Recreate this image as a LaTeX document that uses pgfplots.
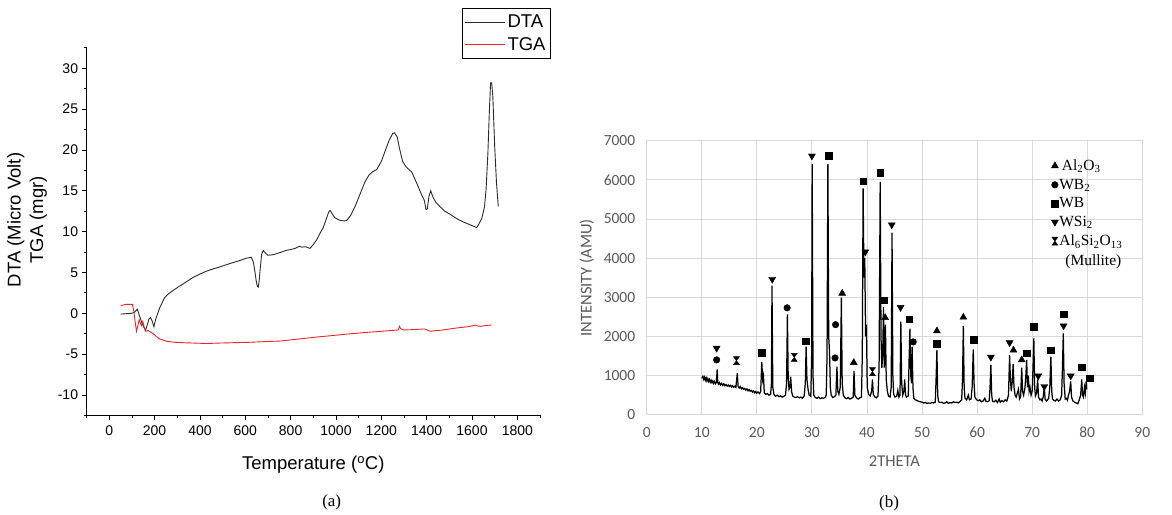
\documentclass[border=0pt]{standalone}
\usepackage{fontspec}
\setmainfont{Liberation Serif}
\newfontfamily\arial{Liberation Sans}
\newfontfamily\calibri{Carlito}
\usepackage{pgfplots}
\usepackage{pgfplotstable}
\pgfplotsset{compat=1.18}
\definecolor{dtac}{HTML}{2B2B2B}
\definecolor{tgac}{HTML}{E8262A}
\definecolor{gridc}{HTML}{D9D9D9}
\definecolor{labc}{HTML}{595959}

\pgfdeclareplotmark{hourglass}{%
  \pgfpathmoveto{\pgfpoint{-0.75\pgfplotmarksize}{\pgfplotmarksize}}%
  \pgfpathlineto{\pgfpoint{0.75\pgfplotmarksize}{\pgfplotmarksize}}%
  \pgfpathlineto{\pgfpoint{-0.75\pgfplotmarksize}{-\pgfplotmarksize}}%
  \pgfpathlineto{\pgfpoint{0.75\pgfplotmarksize}{-\pgfplotmarksize}}%
  \pgfpathclose
  \pgfusepathqfillstroke
}

\pgfplotstableread{
x y
50 -0.1
75 -0.05
98 0.0
110 0.1
124 0.5
133 -0.3
143 -1.1
152 -1.7
160 -2.05
168 -1.4
175 -0.7
182 -0.5
190 -1.0
197 -1.65
205 -0.7
214 0.0
223 0.7
235 1.4
245 1.95
262 2.4
282 2.8
303 3.2
326 3.6
348 4.0
370 4.4
400 4.8
428 5.15
460 5.45
490 5.7
517 5.95
545 6.2
575 6.45
605 6.75
627 6.85
636 6.2
642 5.2
648 4.0
653 3.3
657 3.2
661 3.9
666 5.5
672 7.2
679 7.7
688 7.4
700 7.1
718 7.15
738 7.3
760 7.5
780 7.7
800 7.8
820 7.95
838 8.2
850 8.1
865 8.15
885 7.95
900 8.4
915 9.0
930 9.8
944 10.5
958 11.6
968 12.4
974 12.6
983 12.2
995 11.7
1015 11.4
1035 11.3
1047 11.35
1065 12.0
1084 13.05
1105 14.5
1128 16.1
1145 16.9
1160 17.3
1180 17.6
1200 18.6
1216 19.8
1235 21.2
1250 22.0
1258 22.1
1270 21.6
1280 20.2
1294 18.6
1310 17.9
1334 17.3
1355 16.0
1378 14.5
1390 13.8
1397 12.7
1403 12.8
1410 14.3
1418 15.0
1428 14.2
1440 13.6
1459 13.05
1480 12.5
1505 12.1
1532 11.6
1560 11.2
1590 10.85
1612 10.6
1621 10.5
1632 11.0
1643 11.6
1655 13.0
1662 15.1
1670 19.5
1677 25.0
1682 28.2
1687 28.2
1692 26.5
1700 20.5
1708 16.0
1716 13.05
}\dtadata

\pgfplotstableread{
x y
50 0.95
76 1.1
102 1.1
108 0.3
114 -1.0
120 -2.2
126 -1.5
132 -0.8
137 -1.2
142 -1.5
148 -1.0
153 -1.6
160 -2.2
171 -2.1
182 -2.3
194 -2.5
208 -2.85
223 -3.15
240 -3.3
253 -3.43
290 -3.55
326 -3.6
380 -3.65
429 -3.7
480 -3.65
547 -3.6
620 -3.55
700 -3.45
753 -3.4
820 -3.2
900 -2.95
975 -2.75
1047 -2.55
1130 -2.35
1200 -2.2
1275 -2.04
1280 -1.6
1285 -1.85
1296 -2.04
1340 -2.0
1390 -1.92
1403 -2.05
1415 -2.2
1470 -2.05
1532 -1.8
1580 -1.65
1615 -1.45
1625 -1.55
1640 -1.6
1660 -1.5
1687 -1.43
}\tgadata

\pgfplotstableread{
x y
10.0 930
10.2 980
10.35 900
10.5 960
10.65 880
10.8 940
10.95 860
11.1 920
11.25 850
11.4 900
11.55 830
11.7 880
11.85 820
12.0 860
12.15 800
12.3 850
12.5 790
12.65 830
12.8 1160
12.9 820
13.05 780
13.2 820
13.4 760
13.6 800
13.8 750
14.0 790
14.2 740
14.4 770
14.6 730
14.8 760
15.0 720
15.2 750
15.4 710
15.6 740
15.8 700
16.0 730
16.2 700
16.45 1060
16.6 720
16.8 680
17.0 720
17.2 660
17.4 690
17.6 650
17.8 670
18.0 630
18.2 660
18.4 610
18.6 640
18.8 600
19.0 620
19.2 580
19.4 610
19.6 560
19.8 590
20.0 550
20.2 580
20.5 540
20.7 600
20.9 1350
21.05 900
21.2 1000
21.35 560
21.6 520
21.9 540
22.2 500
22.5 520
22.65 800
22.75 3300
22.9 700
23.1 520
23.4 470
23.7 500
24.0 460
24.3 480
24.6 450
24.9 470
25.2 500
25.4 800
25.55 2560
25.7 900
25.85 650
26.0 700
26.15 970
26.3 600
26.5 480
26.8 450
27.1 440
27.4 460
27.7 430
28.0 450
28.3 420
28.6 480
28.8 800
28.95 1740
29.1 900
29.3 650
29.5 500
29.8 470
29.95 1500
30.05 6400
30.2 1000
30.35 500
30.6 440
30.9 420
31.2 450
31.5 410
31.8 430
32.1 420
32.4 440
32.6 500
32.75 1500
32.9 6400
33.05 2000
33.2 1600
33.35 700
33.5 500
33.8 440
34.1 460
34.35 500
34.55 1230
34.7 600
34.9 520
35.15 700
35.35 2990
35.5 800
35.7 500
36.0 430
36.3 410
36.6 440
36.9 400
37.2 420
37.5 450
37.65 1120
37.8 500
38.1 430
38.4 400
38.7 430
39.0 450
39.15 1500
39.3 5780
39.45 3500
39.6 4000
39.75 2000
39.9 2300
40.05 700
40.3 520
40.6 480
40.85 600
41.0 900
41.15 520
41.4 460
41.7 430
42.0 480
42.2 1200
42.4 5950
42.55 2000
42.7 1200
42.85 1500
43.0 2750
43.15 1200
43.35 2300
43.5 900
43.7 600
43.9 480
44.2 450
44.4 700
44.55 4650
44.7 1000
44.85 520
45.1 450
45.4 470
45.6 620
45.8 450
46.0 500
46.15 2380
46.3 800
46.5 500
46.7 600
46.85 900
47.0 500
47.2 450
47.5 480
47.65 1400
47.8 2200
47.95 1000
48.1 800
48.2 1740
48.35 700
48.5 420
48.8 380
49.1 360
49.4 340
49.7 330
50.0 320
50.3 300
50.6 310
50.9 290
51.2 300
51.5 290
51.8 310
52.1 300
52.4 320
52.55 900
52.7 1650
52.85 500
53.0 330
53.3 310
53.6 320
53.9 290
54.2 300
54.5 330
54.8 290
55.1 310
55.4 300
55.7 330
56.0 310
56.3 320
56.6 300
56.9 340
57.2 380
57.35 900
57.5 2270
57.65 700
57.8 420
58.1 380
58.4 500
58.6 380
58.9 400
59.1 700
59.3 1670
59.45 800
59.6 450
59.9 380
60.2 360
60.5 380
60.8 330
61.1 350
61.4 420
61.6 340
61.9 330
62.2 360
62.35 700
62.5 1270
62.65 500
62.8 340
63.1 330
63.4 370
63.7 310
64.0 400
64.2 320
64.5 360
64.8 330
65.1 380
65.4 350
65.7 500
65.9 1520
66.05 900
66.2 600
66.35 800
66.55 1300
66.7 700
66.9 500
67.1 450
67.3 550
67.5 650
67.7 400
67.9 450
68.1 1200
68.25 600
68.45 500
68.7 700
68.85 1000
69.0 1400
69.15 700
69.3 1000
69.45 600
69.6 700
69.8 500
70.0 600
70.15 1200
70.3 1950
70.45 700
70.6 480
70.8 550
71.0 900
71.15 450
71.4 380
71.6 400
71.8 350
72.0 450
72.2 700
72.35 400
72.6 350
72.8 380
73.0 420
73.2 700
73.4 1480
73.55 600
73.7 400
73.9 370
74.2 350
74.5 400
74.8 350
75.1 380
75.35 500
75.5 1200
75.65 2080
75.8 800
76.0 400
76.2 420
76.4 370
76.6 500
76.8 600
77.0 850
77.15 450
77.4 350
77.7 320
78.0 300
78.3 280
78.6 400
78.8 500
79.0 900
79.15 500
79.3 450
79.5 700
79.65 550
79.8 850
79.9 650
}\xrddata

\begin{document}
\begin{tikzpicture}[x=1pt,y=1pt]
\path[use as bounding box] (0,0) rectangle (1172,514);

% ---------------- Panel (a) ----------------
\begin{axis}[
  at={(86.6pt,98.6pt)}, anchor=south west,
  scale only axis, width=453.4pt, height=367.6pt,
  xmin=-100, xmax=1900, ymin=-12.5, ymax=32.5,
  axis lines=left, axis line style={-, line width=1pt, black},
  xtick={0,200,...,1800}, ytick={-10,-5,...,30},
  minor xtick={-100,100,...,1900},
  minor ytick={-12.5,-7.5,-2.5,2.5,7.5,12.5,17.5,22.5,27.5,32.5},
  tick align=outside, major tick length=5pt, minor tick length=3pt,
  every tick/.style={black, line width=0.8pt},
  /pgf/number format/assume math mode=true,
  /pgf/number format/1000 sep={},
  ticklabel style={font=\fontsize{14}{14}\arial},
  xticklabel style={yshift=-2pt},
  xlabel={Temperature (\textsuperscript{o}C)},
  ylabel={DTA (Micro Volt)\\TGA (mgr)},
  label style={font=\fontsize{18.5}{22.5}\arial},
  xlabel style={at={(axis description cs:0.5,0)}, anchor=center, yshift=-49.6pt},
  ylabel style={at={(axis description cs:-0.131,0.5316)}, anchor=center, align=center},
  legend style={at={(axis description cs:0.8273,1.1082)}, anchor=north west,
    draw=black, line width=0.8pt, font=\fontsize{18.5}{19}\arial,
    inner xsep=2.5pt, inner ysep=4.5pt, row sep=4pt},
  legend cell align=left,
  legend image code/.code={\draw[#1] (0pt,0pt) -- (40pt,0pt);},
]
\addplot[color=dtac, line width=0.9pt] table[x=x,y=y] {\dtadata};
\addlegendentry{DTA}
\addplot[color=tgac, line width=0.9pt] table[x=x,y=y] {\tgadata};
\addlegendentry{TGA}
\end{axis}

% ---------------- Panel (b) ----------------
\begin{axis}[
  at={(646.7pt,99.3pt)}, anchor=south west,
  scale only axis, width=495.6pt, height=274pt,
  xmin=0, xmax=90, ymin=0, ymax=7000,
  xtick={0,10,...,90}, ytick={0,1000,...,7000},
  grid=major, grid style={gridc, line width=0.9pt},
  axis line style={gridc, line width=0.9pt},
  major tick length=0pt,
  scaled y ticks=false,
  /pgf/number format/assume math mode=true,
  /pgf/number format/1000 sep={},
  ticklabel style={font=\fontsize{15.5}{15.5}\calibri, text=labc},
  xticklabel style={yshift=-9pt},
  yticklabel style={xshift=-8pt},
  xlabel={2THETA},
  ylabel={INTENSITY (AMU)},
  label style={font=\fontsize{16.5}{16.5}\calibri, text=labc},
  xlabel style={at={(axis description cs:0.5,0)}, anchor=center, yshift=-46pt},
  ylabel style={at={(axis description cs:-0.1211,0.5)}, anchor=center},
  legend style={at={(axis description cs:0.806,0.935)}, anchor=north west,
    draw=none, fill=none, font=\fontsize{15.5}{16}\selectfont,
    inner sep=0pt, row sep=5pt, nodes={inner xsep=1pt, inner ysep=1pt}},
  legend cell align=left,
]
\addplot[black, line width=1.25pt, forget plot] table[x=x,y=y] {\xrddata};
\addplot[only marks, mark=triangle*, mark size=4pt, black] coordinates {
  (35.5,3100) (37.6,1330) (43.3,2480) (52.7,2140) (57.5,2490) (66.6,1650) (68.1,1400)};
\addlegendentry{\,Al\textsubscript{2}O\textsubscript{3}}
\addplot[only marks, mark=*, mark size=3.3pt, black] coordinates {
  (12.7,1400) (25.5,2730) (34.3,2300) (34.2,1450) (48.4,1860)};
\addlegendentry{WB\textsubscript{2}}
\addplot[only marks, mark=square*, mark size=3.3pt, black] coordinates {
  (20.9,1590) (28.9,1880) (33.0,6620) (39.3,5970) (42.4,6180) (43.0,2930)
  (47.7,2440) (52.7,1820) (59.4,1910) (69.0,1570) (70.3,2250) (73.4,1650)
  (75.7,2570) (79.0,1210) (80.5,930)};
\addlegendentry{WB}
\addplot[only marks, mark=triangle*, mark size=4pt, mark options={rotate=180}, black] coordinates {
  (12.7,1700) (22.8,3460) (30.0,6610) (39.7,4160) (44.5,4850) (46.1,2740)
  (62.5,1470) (65.9,1840) (71.1,990) (72.2,720) (75.7,2270) (77.0,990)};
\addlegendentry{WSi\textsubscript{2}}
\addplot[only marks, mark=hourglass, mark size=4pt, black] coordinates {
  (16.3,1380) (26.8,1465) (41.0,1100)};
\addlegendentry{Al\textsubscript{6}Si\textsubscript{2}O\textsubscript{13}}
\addlegendimage{empty legend}
\addlegendentry{\hspace{6pt}(Mullite)}
\end{axis}

\node[font=\fontsize{17}{17}\selectfont] at (331.7,11.7) {(a)};
\node[font=\fontsize{17}{17}\selectfont] at (889,10.7) {(b)};
\end{tikzpicture}
\end{document}
